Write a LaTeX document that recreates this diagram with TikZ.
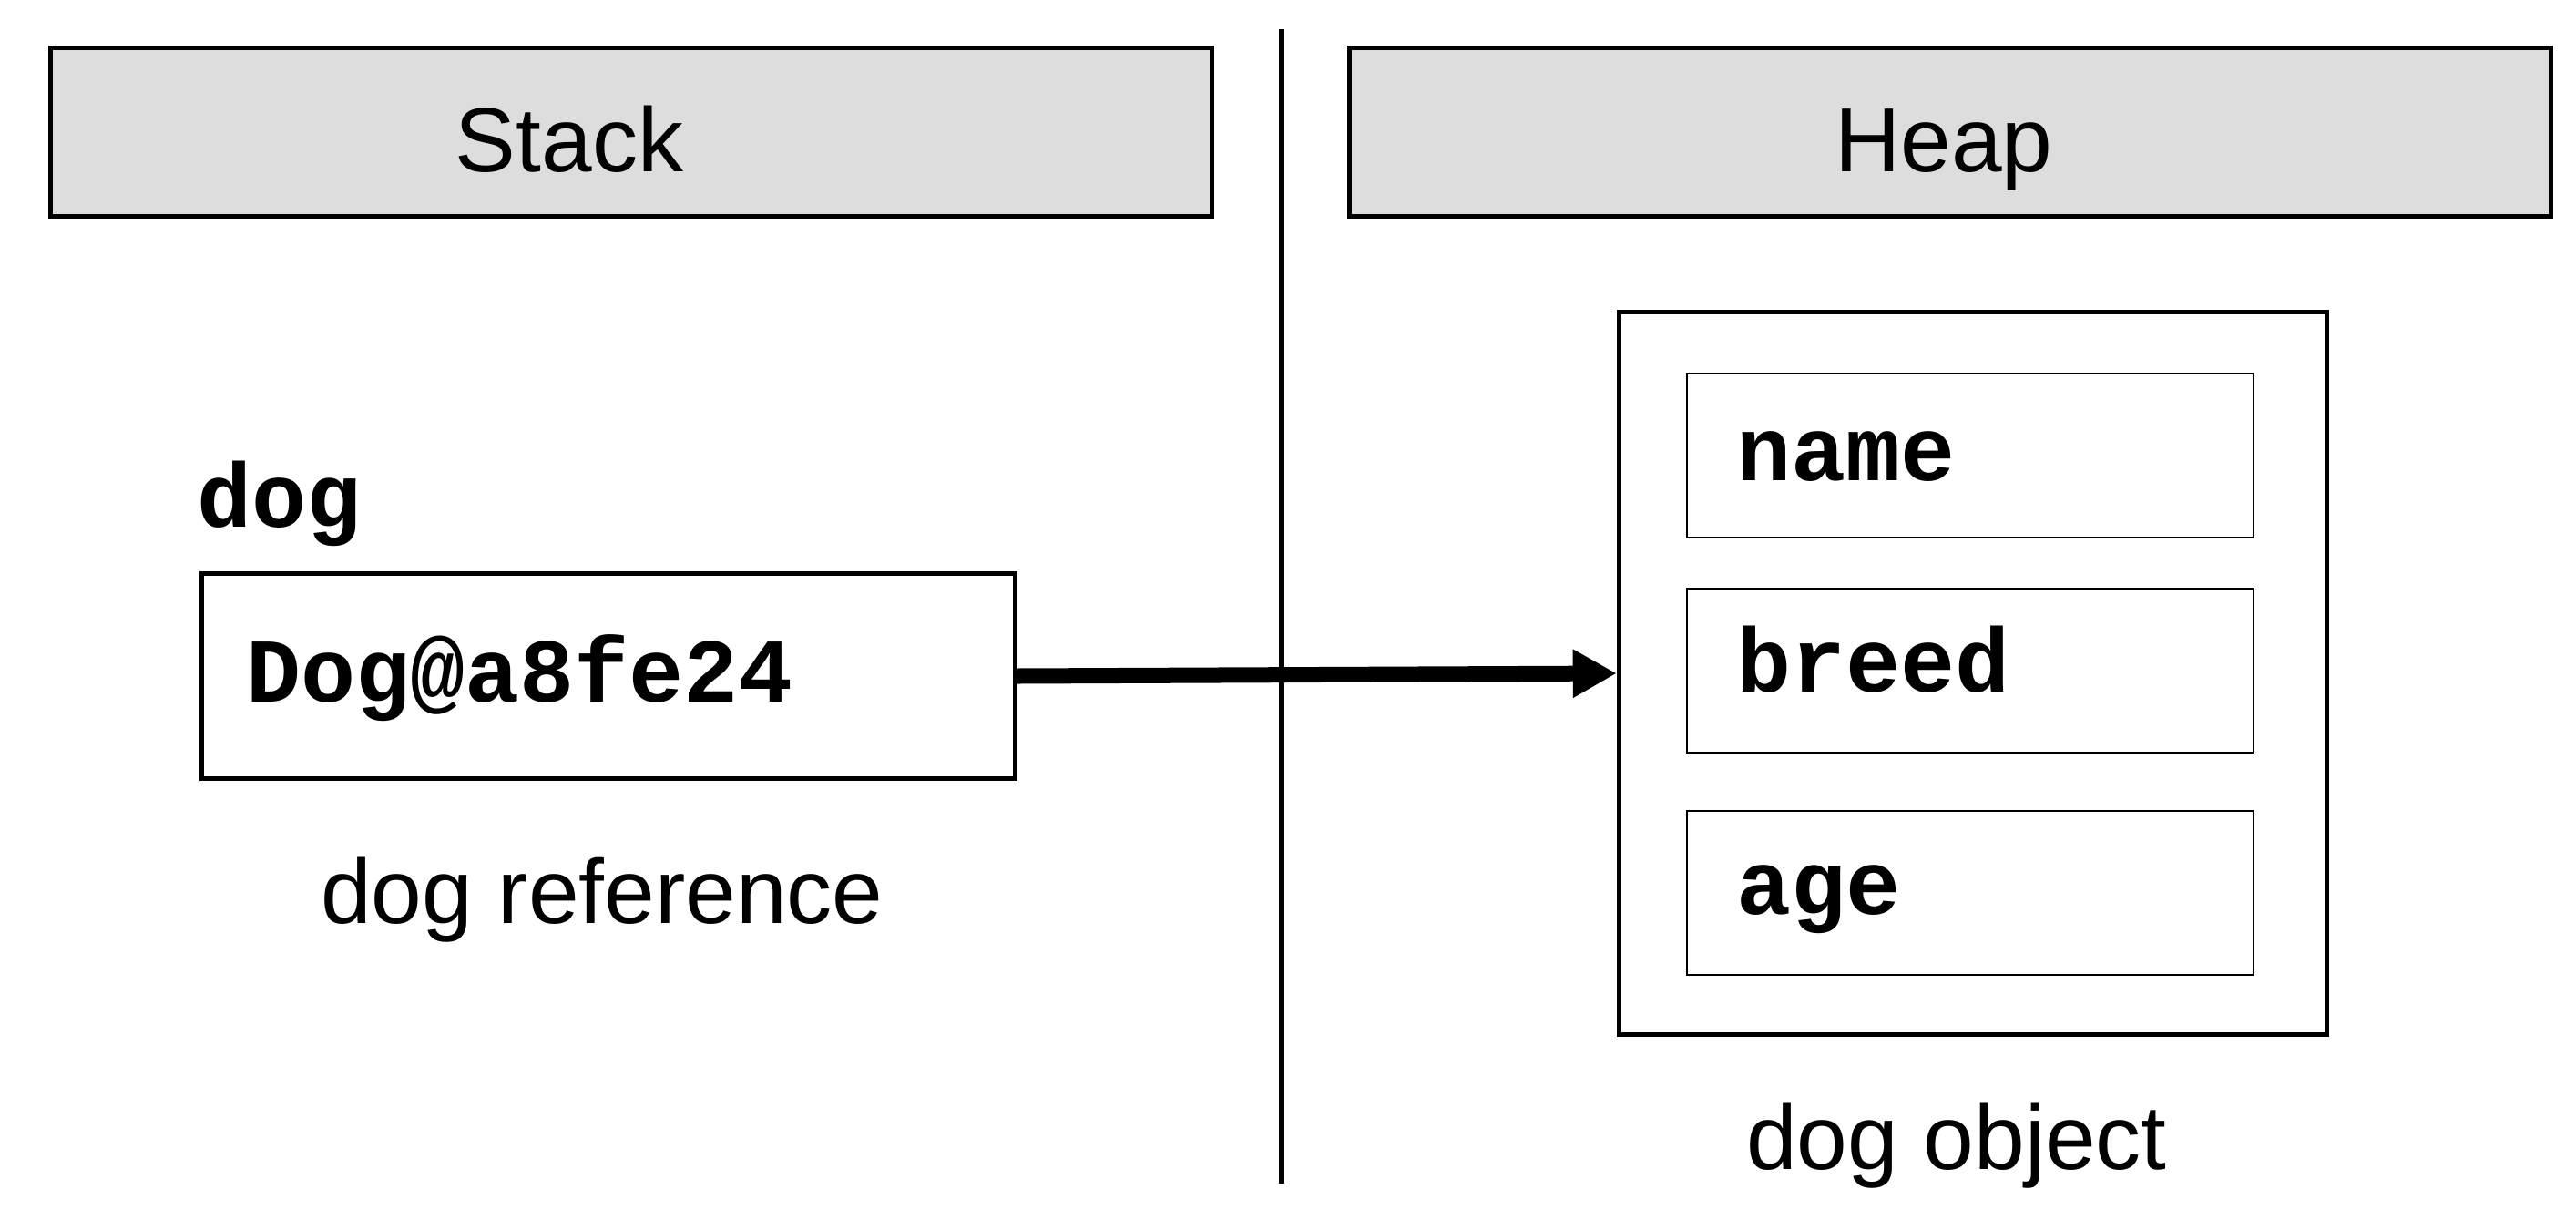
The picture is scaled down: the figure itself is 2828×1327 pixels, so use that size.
\documentclass[tikz,border=0pt]{standalone}
\usepackage{fontspec}
\setmainfont{Liberation Sans}
\newfontfamily\codefont{Liberation Mono}
\usetikzlibrary{arrows.meta}
\definecolor{hdrgray}{HTML}{DDDDDD}

\begin{document}
\begin{tikzpicture}[x=0.01cm,y=-0.01cm,
	hdr/.style={draw,line width=0.05cm,fill=hdrgray,minimum height=1.85cm,inner sep=0},
	box/.style={draw,line width=0.05cm,inner sep=0},
	field/.style={draw,line width=0.02cm,minimum width=6.21cm,minimum height=1.79cm,inner sep=0},
	txt/.style={font=\fontsize{28.45}{34}\selectfont,inner sep=0,anchor=base},
	code/.style={font=\fontsize{28.45}{34}\selectfont\codefont\bfseries,inner sep=0,anchor=base west}]
	\useasboundingbox (0,0) rectangle (2828,1327);
	\node (stackbox) at (693,145) [hdr,minimum width=12.75cm]{};
	\node (heapbox) at (2141,145) [hdr,minimum width=13.19cm]{};
	\node (stack) at (625,188) [txt]{Stack};
	\node (heap) at (2134,188) [txt]{Heap};
	\coordinate (top) at (1407,32);
	\coordinate (bot) at (1407,1299);
	\draw [line width=0.055cm](top)--(bot);
	\node (var) at (216,578) [code]{dog};
	\node (ref) at (668,742) [box,minimum width=8.92cm,minimum height=2.25cm]{};
	\node (refval) at (270,770) [code]{Dog@a8fe24};
	\node (reflbl) at (661,1013) [txt]{dog reference};
	\node (obj) at (2166,739) [box,minimum width=7.77cm,minimum height=7.93cm]{};
	\foreach \f/\y/\b in {name/500/527,breed/736/759,age/980/1003}{
		\node (\f) at (2163,\y) [field]{};
		\node (\f-lbl) at (1906,\b) [code]{\f};
	}
	\node (objlbl) at (2148,1283) [txt]{dog object};
	\draw [line width=0.17cm,-{Triangle[length=0.48cm,width=0.5cm]}](ref.east)--(obj.west);
\end{tikzpicture}
\end{document}
